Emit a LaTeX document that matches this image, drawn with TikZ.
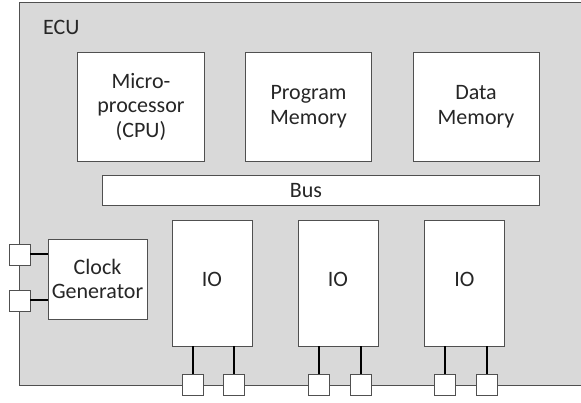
\documentclass[tikz,border=0pt]{standalone}
\usepackage{fontspec}
\setmainfont{Carlito}
\definecolor{ecugray}{HTML}{D9D9D9}
\definecolor{edge}{HTML}{505050}
\begin{document}
\begin{tikzpicture}[x=1pt,y=-1pt,
  txt/.style={font=\fontsize{22}{24.5}\selectfont,text=black!85},
  blk/.style={draw=edge,line width=0.9pt,fill=white,inner sep=0pt,align=center,txt},
  pin/.style={draw=edge,line width=0.9pt,fill=white,minimum size=21pt,inner sep=0pt},
  wire/.style={line width=2pt,black}]
\useasboundingbox (0,0) rectangle (581,403);
% ECU board
\fill[ecugray] (19.5,3) rectangle (581,385);
\draw[edge,line width=1pt] (581,3) -- (19.5,3) -- (19.5,385) -- (581,385);
\node[txt,anchor=west,inner sep=0pt] (ecu) at (43,27) {ECU};
% top blocks
\node[blk,minimum width=127pt,minimum height=109pt] (cpu) at (141,106.5) {Micro-\\processor\\(CPU)};
\node[blk,minimum width=126pt,minimum height=109pt] (pm) at (308.5,106.5) {Program\\Memory};
\node[blk,minimum width=126pt,minimum height=109pt] (dm) at (476,106.5) {Data\\Memory};
\node[blk,minimum width=437pt,minimum height=30.5pt] (bus) at (320.5,190.5) {};
\node[txt] (bustxt) at (306,190.5) {Bus};
% clock generator
\node[blk,minimum width=99pt,minimum height=80pt] (clk) at (97.5,279) {Clock\\Generator};
\node[pin] (c1) at (19.5,254.5) {};
\node[pin] (c2) at (19.5,300.5) {};
\draw[wire] (c1.east) -- (c1.east -| clk.west);
\draw[wire] (c2.east) -- (c2.east -| clk.west);
% IO blocks
\foreach \n/\x/\a/\b in {1/212/193/234, 2/338/319/360.5, 3/464.5/445/486.5}{
  \node[blk,minimum width=80pt,minimum height=126pt] (io\n) at (\x,283) {};
  \node[txt] (iot\n) at (\x,279) {IO};
  \node[pin] (p\n a) at (\a,384.5) {};
  \node[pin] (p\n b) at (\b,384.5) {};
  \draw[wire] (p\n a.north) -- (p\n a.north |- io\n.south);
  \draw[wire] (p\n b.north) -- (p\n b.north |- io\n.south);
}
\end{tikzpicture}
\end{document}
